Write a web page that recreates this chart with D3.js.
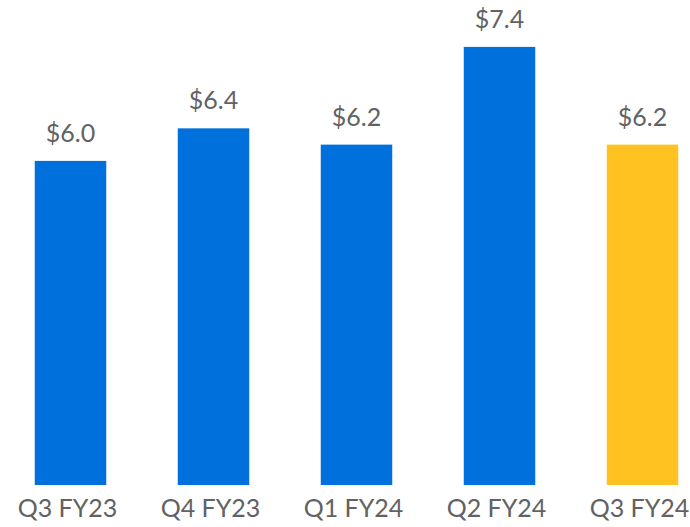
<!DOCTYPE html>
<html>
<head>
<meta charset="utf-8">
<script src="https://cdn.jsdelivr.net/npm/d3@7"></script>
<style>
  body { margin: 0; background: #fff; }
  svg { display: block; }
  .label, .tick text { font-family: Lato, "Open Sans", sans-serif; fill: #626264; }
</style>
</head>
<body>
<svg id="chart"></svg>
<script>
'use strict';

var categories = ["Q3 FY23", "Q4 FY23", "Q1 FY24", "Q2 FY24", "Q3 FY24"];
var values = [6.0, 6.4, 6.2, 7.4, 6.2];
var valueLabels = ["$6.0", "$6.4", "$6.2", "$7.4", "$6.2"];
var barColors = ["#0071dc", "#0071dc", "#0071dc", "#0071dc", "#ffc220"];

var width = 690,
  height = 527,
  baseline = 485;

var svg = d3.select("#chart")
  .attr("width", width)
  .attr("height", height);

var x = d3.scaleBand()
  .domain(categories)
  .range([-1, 714])
  .paddingInner(0.5)
  .paddingOuter(0.25);

// axis does not start at zero in the original
var y = d3.scaleLinear()
  .domain([2.02, 7.976])
  .range([baseline, 0]);

var data = categories.map((c, i) => {
  return { cat: c, value: values[i], label: valueLabels[i], color: barColors[i] };
});

svg.append("g").selectAll("rect")
  .data(data)
  .enter()
  .append("rect")
  .attr("x", d => x(d.cat))
  .attr("y", d => y(d.value))
  .attr("width", x.bandwidth())
  .attr("height", d => baseline - y(d.value))
  .attr("fill", d => d.color);

svg.append("g").selectAll("text")
  .data(data)
  .enter()
  .append("text")
  .attr("class", "label")
  .attr("x", d => x(d.cat) + x.bandwidth() / 2)
  .attr("y", d => y(d.value) - 19)
  .attr("text-anchor", "middle")
  .style("font-size", "25px")
  .text(d => d.label);

var axis = svg.append("g")
  .attr("transform", "translate(-3," + baseline + ")")
  .call(d3.axisBottom(x).tickSize(0).tickPadding(14));

axis.select(".domain").remove();
axis.selectAll(".tick text")
  .style("font-size", "25px");
</script>
</body>
</html>
